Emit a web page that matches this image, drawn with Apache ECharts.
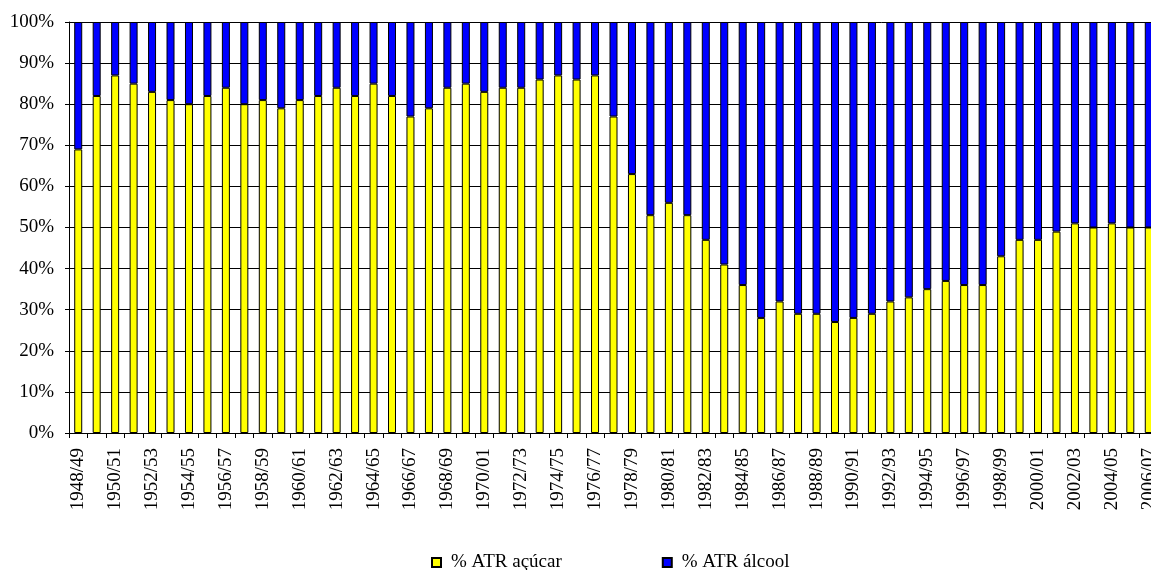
<!DOCTYPE html>
<html>
<head>
<meta charset="utf-8">
<script src="https://cdn.jsdelivr.net/npm/echarts@6/dist/echarts.min.js"></script>
<style>
html,body{margin:0;padding:0;background:#fff;}
#chart{width:1151px;height:570px;}
</style>
</head>
<body>
<div id="chart"></div>
<script>
const categories = ['1948/49','1949/50','1950/51','1951/52','1952/53','1953/54','1954/55','1955/56','1956/57','1957/58','1958/59','1959/60','1960/61','1961/62','1962/63','1963/64','1964/65','1965/66','1966/67','1967/68','1968/69','1969/70','1970/01','1971/72','1972/73','1973/74','1974/75','1975/76','1976/77','1977/78','1978/79','1979/80','1980/81','1981/82','1982/83','1983/84','1984/85','1985/86','1986/87','1987/88','1988/89','1989/90','1990/91','1991/92','1992/93','1993/94','1994/95','1995/96','1996/97','1997/98','1998/99','1999/00','2000/01','2001/02','2002/03','2003/04','2004/05','2005/06','2006/07'];
const atrAcucar = [69,82,87,85,83,81,80,82,84,80,81,79,81,82,84,82,85,82,77,79,84,85,83,84,84,86,87,86,87,77,63,53,56,53,47,41,36,28,32,29,29,27,28,29,32,33,35,37,36,36,43,47,47,49,51,50,51,50,50];
const atrAlcool = [31,18,13,15,17,19,20,18,16,20,19,21,19,18,16,18,15,18,23,21,16,15,17,16,16,14,13,14,13,23,37,47,44,47,53,59,64,72,68,71,71,73,72,71,68,67,65,63,64,64,57,53,53,51,49,50,49,50,50];
const seriesNames = ['% ATR açúcar','% ATR álcool'];

const font = 'Liberation Serif';
const chart = echarts.init(document.getElementById('chart'), null, {renderer:'canvas'});
chart.setOption({
  animation:false,
  backgroundColor:'#ffffff',
  textStyle:{fontFamily:font,color:'#000'},
  grid:{left:69, top:22, right:-7, bottom:137, containLabel:false, outerBoundsMode:'none'},
  legend:{
    left:426, top:548,
    itemWidth:9, itemHeight:9, itemGap:100,
    icon:'rect',
    textStyle:{fontFamily:font, fontSize:19, color:'#000', padding:[0,0,0,5]},
    data:seriesNames
  },
  xAxis:{
    type:'category',
    data:categories,
    axisLine:{lineStyle:{color:'#000',width:1}},
    axisTick:{show:true, interval:0, length:5, lineStyle:{color:'#000'}},
    axisLabel:{interval:1, rotate:90, margin:15, fontFamily:font, fontSize:19, color:'#000'},
    splitLine:{show:false}
  },
  yAxis:{
    type:'value', min:0, max:100, interval:10,
    axisLine:{show:true, lineStyle:{color:'#000',width:1}},
    axisTick:{show:true, length:4, lineStyle:{color:'#000'}},
    axisLabel:{formatter:'{value}%', margin:15, fontFamily:font, fontSize:19, color:'#000'},
    splitLine:{show:true, lineStyle:{color:'#000',width:1}}
  },
  series:[
    {name:seriesNames[0], type:'bar', stack:'t', data:atrAcucar, barWidth:8,
     itemStyle:{color:'#FFFF00', borderColor:'#000', borderWidth:1}},
    {name:seriesNames[1], type:'bar', stack:'t', data:atrAlcool, barWidth:8,
     itemStyle:{color:'#0000FF', borderColor:'#000', borderWidth:1}}
  ]
});
</script>
</body>
</html>
